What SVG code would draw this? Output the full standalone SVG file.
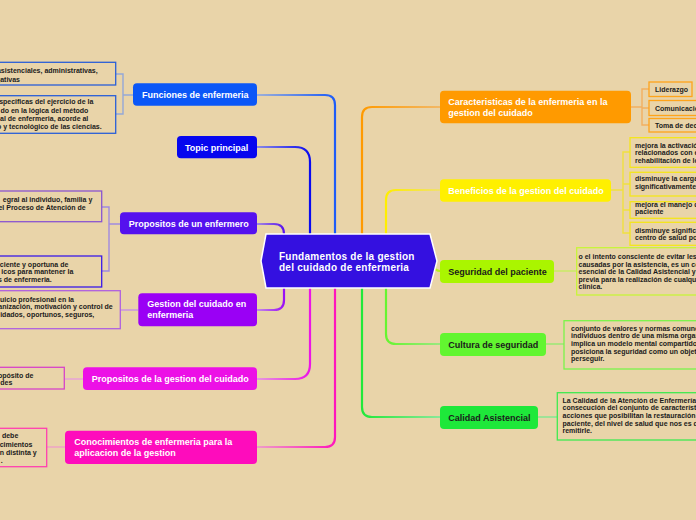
<svg xmlns="http://www.w3.org/2000/svg" width="696" height="520" viewBox="0 0 696 520">
<defs>
<style>
.t{font-family:"Liberation Sans",Arial,sans-serif;font-weight:bold;font-size:9px;fill:#fff}
.td{fill:#1b1b1b}
.l{font-family:"Liberation Sans",Arial,sans-serif;font-weight:bold;font-size:7px;fill:#1b1b1b}
.e{text-anchor:end}
.b{fill:none;stroke-width:1.3}
.c{fill:none;stroke-width:2.2;stroke-linecap:round}
.k{fill:none;stroke-width:1.4}
.ctr{font-family:"Liberation Sans",Arial,sans-serif;font-weight:bold;font-size:10px;letter-spacing:0.25px;fill:#fff}
</style>
<linearGradient id="g1" gradientUnits="userSpaceOnUse" x1="257" y1="0" x2="335" y2="0"><stop offset="0" stop-color="#9eb0d8"/><stop offset="1" stop-color="#1d5cf8"/></linearGradient>
<linearGradient id="g2" gradientUnits="userSpaceOnUse" x1="257" y1="0" x2="310" y2="0"><stop offset="0" stop-color="#8a8ae6"/><stop offset="1" stop-color="#0a0af0"/></linearGradient>
<linearGradient id="g3" gradientUnits="userSpaceOnUse" x1="257" y1="0" x2="284" y2="0"><stop offset="0" stop-color="#a58ae0"/><stop offset="1" stop-color="#5a14ee"/></linearGradient>
<linearGradient id="g4" gradientUnits="userSpaceOnUse" x1="257" y1="0" x2="284" y2="0"><stop offset="0" stop-color="#c48ae8"/><stop offset="1" stop-color="#9a10f5"/></linearGradient>
<linearGradient id="g5" gradientUnits="userSpaceOnUse" x1="257" y1="0" x2="310" y2="0"><stop offset="0" stop-color="#e69ade"/><stop offset="1" stop-color="#ec14e6"/></linearGradient>
<linearGradient id="g6" gradientUnits="userSpaceOnUse" x1="257" y1="0" x2="335" y2="0"><stop offset="0" stop-color="#ee9ec8"/><stop offset="1" stop-color="#fe16bc"/></linearGradient>
<linearGradient id="g7" gradientUnits="userSpaceOnUse" x1="440" y1="0" x2="362" y2="0"><stop offset="0" stop-color="#f2b866"/><stop offset="1" stop-color="#ff9a00"/></linearGradient>
<linearGradient id="g8" gradientUnits="userSpaceOnUse" x1="440" y1="0" x2="386" y2="0"><stop offset="0" stop-color="#f0e070"/><stop offset="1" stop-color="#ffee00"/></linearGradient>
<linearGradient id="g10" gradientUnits="userSpaceOnUse" x1="440" y1="0" x2="386" y2="0"><stop offset="0" stop-color="#9ae880"/><stop offset="1" stop-color="#66f530"/></linearGradient>
<linearGradient id="g11" gradientUnits="userSpaceOnUse" x1="440" y1="0" x2="362" y2="0"><stop offset="0" stop-color="#8ae898"/><stop offset="1" stop-color="#22e83a"/></linearGradient>
</defs>
<rect x="0" y="0" width="696" height="520" fill="#e9d4a9"/>

<g id="connectors">
<path class="c" stroke="url(#g1)" d="M257,95 H325 Q335,95 335,105 V240"/>
<path class="c" stroke="url(#g2)" d="M257,147 H295 Q310,147 310,162 V240"/>
<path class="c" stroke="url(#g3)" d="M257,224 H274 Q284,224 284,234 V240"/>
<path class="c" stroke="url(#g4)" d="M257,310 H274 Q284,310 284,300 V284"/>
<path class="c" stroke="url(#g5)" d="M257,379 H295 Q310,379 310,364 V284"/>
<path class="c" stroke="url(#g6)" d="M257,447 H325 Q335,447 335,437 V284"/>
<path class="c" stroke="url(#g7)" d="M362,240 V117 Q362,107 372,107 H440"/>
<path class="c" stroke="url(#g8)" d="M386,240 V200 Q386,190 396,190 H440"/>
<path class="c" stroke="#b8f020" d="M432,266 Q436,271 440,271"/>
<path class="c" stroke="url(#g10)" d="M386,284 V334 Q386,344 396,344 H440"/>
<path class="c" stroke="url(#g11)" d="M362,284 V407 Q362,417 372,417 H440"/>
<path class="k" stroke="#94a8d8" d="M133,95 H123 M116,74 H123 V114 H116"/>
<path class="k" stroke="#a08ae0" d="M120,224 H109 M102,207 H109 V271 H102"/>
<path class="k" stroke="#c890e6" d="M138,310 H121"/>
<path class="k" stroke="#e8a0da" d="M83,379 H65"/>
<path class="k" stroke="#f0a0c8" d="M65,447 H47"/>
<path class="k" stroke="#f2b060" d="M631,107 H642 M649,89 H642 V125 H649 M642,108 H649"/>
<path class="k" stroke="#f0e040" d="M611,190 H623 M630,152 H623 V233 H630 M623,184 H630 M623,210 H630"/>
<path class="k" stroke="#c8ec60" d="M554,271 H577"/>
<path class="k" stroke="#96ea70" d="M546,344 H564"/>
<path class="k" stroke="#80e890" d="M538,417 H557"/>
</g>

<g id="center">
<polygon points="266,234 430,234 437,261 430,288 266,288 261,261" fill="#3410e0" stroke="#fff" stroke-width="1.5"/>
<text class="ctr" x="279" y="259.5">Fundamentos de la gestion</text>
<text class="ctr" x="279" y="271">del cuidado de enfermeria</text>
</g>

<g id="funciones">
<rect x="133" y="83.3" width="124" height="22.4" rx="4" fill="#0b57f7"/>
<text class="t" x="142" y="98">Funciones de enfermeria</text>
</g>
<g id="topic">
<rect x="177" y="136" width="80" height="22.3" rx="4" fill="#0606ef"/>
<text class="t" x="185" y="150.5">Topic principal</text>
</g>
<g id="propositos-enfermero">
<rect x="120" y="212.3" width="137" height="22" rx="4" fill="#5511ee"/>
<text class="t" x="128.7" y="226.7">Propositos de un enfermero</text>
</g>
<g id="gestion-cuidado">
<rect x="138.3" y="293.3" width="118.7" height="33" rx="4" fill="#9a00f5"/>
<text class="t" x="147.3" y="307.3">Gestion del cuidado en</text>
<text class="t" x="147.3" y="318.3">enfermeria</text>
</g>
<g id="propositos-gestion">
<rect x="83" y="367.3" width="174" height="22.7" rx="4" fill="#ec10e6"/>
<text class="t" x="91.7" y="382">Propositos de la gestion del cuidado</text>
</g>
<g id="conocimientos">
<rect x="65" y="430.7" width="192" height="33.3" rx="4" fill="#fe0cbc"/>
<text class="t" x="74.3" y="445">Conocimientos de enfermeria para la</text>
<text class="t" x="74.3" y="456">aplicacion de la gestion</text>
</g>
<g id="caracteristicas">
<rect x="440" y="90.7" width="191" height="32.6" rx="4" fill="#ff9a00"/>
<text class="t" x="448.3" y="104.8">Caracteristicas de la enfermeria en la</text>
<text class="t" x="448.3" y="115.8">gestion del cuidado</text>
</g>
<g id="beneficios">
<rect x="440" y="179.3" width="171" height="22.4" rx="4" fill="#fff000"/>
<text class="t" x="448.3" y="193.8">Beneficios de la gestion del cuidado</text>
</g>
<g id="seguridad">
<rect x="440" y="260" width="114" height="23" rx="4" fill="#aaf500"/>
<text class="t td" x="448.3" y="274.8">Seguridad del paciente</text>
</g>
<g id="cultura">
<rect x="440" y="333" width="106" height="23" rx="4" fill="#62f530"/>
<text class="t td" x="448.3" y="347.8">Cultura de seguridad</text>
</g>
<g id="calidad">
<rect x="440" y="406" width="98" height="23" rx="4" fill="#1ee83a"/>
<text class="t td" x="448.3" y="420.8">Calidad Asistencial</text>
</g>

<g id="leaf-funciones-1">
<rect class="b" stroke="#2a5fd8" x="-2" y="62.3" width="117.7" height="22.7"/>
<text class="l e" x="97.7" y="72.5">asistenciales, administrativas,</text>
<text class="l e" x="20" y="81.5">gativas</text>
</g>
<g id="leaf-funciones-2">
<rect class="b" stroke="#2a5fd8" x="-2" y="95.7" width="117.7" height="37.6"/>
<text class="l e" x="93.3" y="104">especificas del ejercicio de la</text>
<text class="l e" x="88.3" y="112.5">do en la lógica del método</text>
<text class="l e" x="88.3" y="121">al de enfermeria, acorde al</text>
<text class="l e" x="101.7" y="129">o y tecnológico de las ciencias.</text>
</g>
<g id="leaf-propositos-1">
<rect class="b" stroke="#8a55d0" x="-2" y="191" width="103.7" height="30.7"/>
<text class="l e" x="92.3" y="202">egral al individuo, familia y</text>
<text class="l e" x="85.7" y="210">el Proceso de Atención de</text>
</g>
<g id="leaf-propositos-2">
<rect class="b" stroke="#3a1ae8" x="-2" y="256" width="103.7" height="31"/>
<text class="l e" x="68.3" y="266.5">ciente y oportuna de</text>
<text class="l e" x="73.3" y="274">icos para mantener la</text>
<text class="l e" x="51.7" y="282">s de enfermeria.</text>
</g>
<g id="leaf-gestion">
<rect class="b" stroke="#b060e0" x="-2" y="290.7" width="122.3" height="38"/>
<text class="l e" x="74" y="301.5">uicio profesional en la</text>
<text class="l e" x="112.7" y="309">anización, motivación y control de</text>
<text class="l e" x="94.3" y="317">idados, oportunos, seguros,</text>
</g>
<g id="leaf-propositos-gestion">
<rect class="b" stroke="#d844c8" x="-2" y="367.3" width="66.3" height="21.7"/>
<text class="l e" x="33.3" y="377.5">opósito de</text>
<text class="l e" x="12.3" y="385">des</text>
</g>
<g id="leaf-conocimientos">
<rect class="b" stroke="#ff40b0" x="-2" y="428.3" width="48.7" height="38.4"/>
<text class="l e" x="18.3" y="438">debe</text>
<text class="l e" x="32.3" y="446.5">ocimientos</text>
<text class="l e" x="36.7" y="455">n distinta y</text>
<text class="l e" x="2.7" y="462.5">.</text>
</g>

<g id="leaf-liderazgo">
<rect class="b" stroke="#ffa41a" x="649" y="82" width="43" height="14.5"/>
<text class="l" x="655" y="92.4">Liderazgo</text>
</g>
<g id="leaf-comunicacion">
<rect class="b" stroke="#ffa41a" x="649" y="100.5" width="52" height="15"/>
<text class="l" x="655" y="110.8">Comunicacio</text>
</g>
<g id="leaf-toma">
<rect class="b" stroke="#ffa41a" x="649" y="118.5" width="52" height="13.5"/>
<text class="l" x="655" y="128.4">Toma de dec</text>
</g>
<g id="leaf-beneficios-1">
<rect class="b" stroke="#f5e61a" x="630" y="137.7" width="70" height="29.6"/>
<text class="l" x="635" y="147.5">mejora la activació</text>
<text class="l" x="635" y="155">relacionados con e</text>
<text class="l" x="635" y="162.5">rehabilitación de lo</text>
</g>
<g id="leaf-beneficios-2">
<rect class="b" stroke="#f5e61a" x="630" y="172.3" width="70" height="23.7"/>
<text class="l" x="635" y="180.8">disminuye la carga</text>
<text class="l" x="635" y="188.5">significativamente</text>
</g>
<g id="leaf-beneficios-3">
<rect class="b" stroke="#f5e61a" x="630" y="201.7" width="70" height="16.6"/>
<text class="l" x="635" y="206.8">mejora el manejo d</text>
<text class="l" x="635" y="214.2">paciente</text>
</g>
<g id="leaf-beneficios-4">
<rect class="b" stroke="#f5e61a" x="630" y="222.3" width="70" height="23"/>
<text class="l" x="635" y="232.5">disminuye signific</text>
<text class="l" x="635" y="240">centro de salud po</text>
</g>
<g id="leaf-seguridad">
<rect class="b" stroke="#c8f53a" x="576.7" y="247.7" width="124" height="47.3"/>
<text class="l" x="578.5" y="259.1">o el intento consciente de evitar les</text>
<text class="l" x="578.5" y="266.6">causadas por la asistencia, es un co</text>
<text class="l" x="578.5" y="274.1">esencial de la Calidad Asistencial y</text>
<text class="l" x="578.5" y="281.6">previa para la realización de cualqu</text>
<text class="l" x="578.5" y="289.1">clínica.</text>
</g>
<g id="leaf-cultura">
<rect class="b" stroke="#7af54a" x="564" y="320.7" width="136" height="48.3"/>
<text class="l" x="571" y="330.5">conjunto de valores y normas comune</text>
<text class="l" x="571" y="338.2">individuos dentro de una misma organ</text>
<text class="l" x="571" y="346">implica un modelo mental compartido</text>
<text class="l" x="571" y="353.7">posiciona la seguridad como un objet</text>
<text class="l" x="571" y="361.4">perseguir.</text>
</g>
<g id="leaf-calidad">
<rect class="b" stroke="#40ea50" x="557.3" y="392.7" width="143" height="47.3"/>
<text class="l" x="562.5" y="402.5">La Calidad de la Atención de Enfermería</text>
<text class="l" x="562.5" y="410.2">consecución del conjunto de característ</text>
<text class="l" x="562.5" y="417.9">acciones que posibilitan la restauración</text>
<text class="l" x="562.5" y="425.6">paciente, del nivel de salud que nos es d</text>
<text class="l" x="562.5" y="433.2">remitirle.</text>
</g>
</svg>
